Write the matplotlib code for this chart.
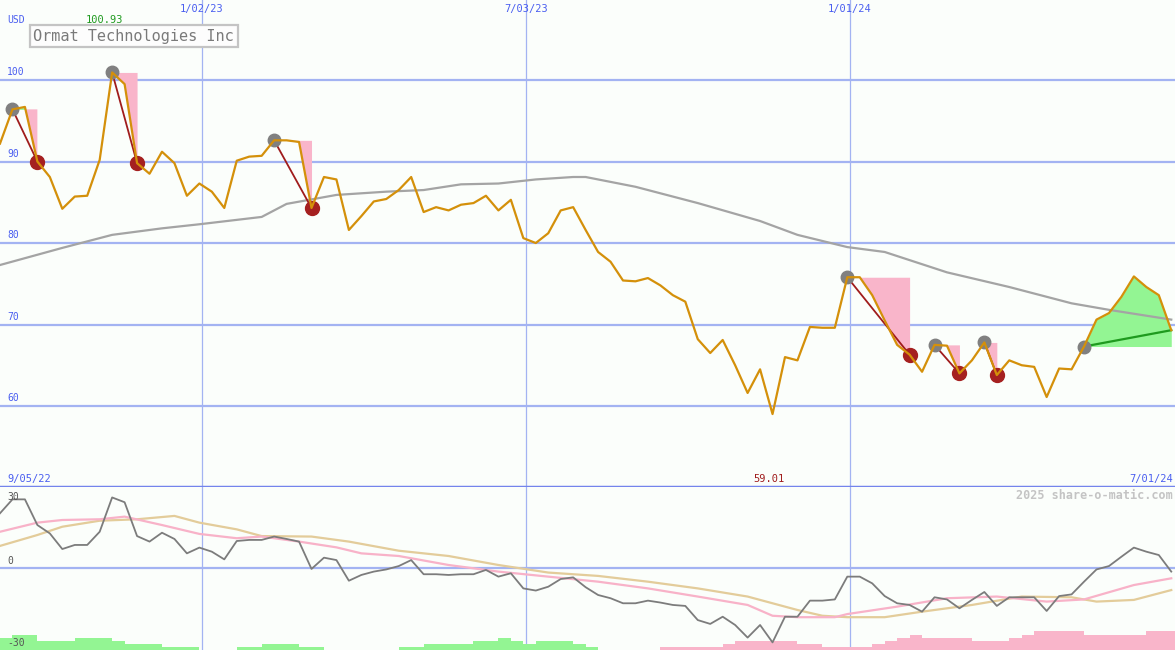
import numpy as np
import matplotlib
matplotlib.use('Agg')
import matplotlib.pyplot as plt
import matplotlib.transforms as mtrans

# ── weekly closes (USD), week 0 = first point on the left ──
price = [92.2, 96.4, 96.7, 90.0, 88.1, 84.2, 85.7, 85.8, 90.2, 100.93,
         99.5, 89.8, 88.5, 91.2, 89.8, 85.8, 87.3, 86.3, 84.3, 90.1,
         90.6, 90.7, 92.6, 92.6, 92.4, 84.3, 88.1, 87.8, 81.6, 83.3,
         85.1, 85.4, 86.5, 88.1, 83.8, 84.4, 84.0, 84.7, 84.9, 85.8,
         84.0, 85.3, 80.6, 80.0, 81.2, 84.0, 84.4, 81.6, 78.9, 77.7,
         75.4, 75.3, 75.7, 74.8, 73.6, 72.8, 68.2, 66.5, 68.1, 65.0,
         61.6, 64.5, 59.01, 66.0, 65.6, 69.7, 69.6, 69.6, 75.8, 75.8,
         73.6, 70.5, 67.5, 66.3, 64.2, 67.5, 67.4, 64.0, 65.6, 67.8,
         63.8, 65.6, 65.0, 64.8, 61.1, 64.6, 64.5, 67.3, 70.6, 71.4,
         73.4, 75.9, 74.6, 73.6, 69.3]

# long moving average (read at a few weeks)
ma_week = [0, 5, 9, 13, 16, 21, 23, 27, 31, 34, 37, 40, 43, 46, 47, 51,
           56, 61, 64, 68, 71, 76, 81, 86, 89, 94]
ma_val = [77.3, 79.4, 81.0, 81.8, 82.3, 83.2, 84.8, 85.9, 86.3, 86.5, 87.2,
          87.3, 87.8, 88.1, 88.1, 86.9, 84.9, 82.7, 81.0, 79.5, 78.9, 76.4,
          74.6, 72.6, 71.8, 70.6]

# drawdowns (peak week, trough week) and the final rally
drops = [(1, 3), (9, 11), (22, 25), (68, 73), (75, 77), (79, 80)]
rally = (87, 94)

# lower panel: oscillator + two signal lines
osc = [22.8, 28.6, 28.6, 17.9, 14.4, 7.9, 9.6, 9.6, 15.1, 29.4,
       27.4, 13.3, 11.0, 14.7, 12.1, 6.1, 8.5, 6.8, 3.6, 11.25,
       11.7, 11.7, 13.1, 12.1, 11.0, -0.4, 4.3, 3.3, -5.3, -2.9,
       -1.5, -0.6, 0.8, 3.3, -2.6, -2.6, -2.9, -2.6, -2.6, -0.8,
       -3.6, -2.2, -8.5, -9.4, -7.8, -4.6, -3.9, -8.0, -11.25, -12.6,
       -14.7, -14.7, -13.6, -14.4, -15.4, -15.8, -21.7, -23.3, -20.3, -23.75,
       -29.0, -23.75, -31.0, -20.3, -20.3, -13.6, -13.6, -13.1, -3.6, -3.6,
       -6.4, -11.7, -14.7, -15.4, -18.2, -12.2, -13.1, -16.8, -13.3, -10.0,
       -15.8, -12.2, -12.2, -12.2, -17.9, -11.7, -11.0, -5.7, -0.6, 0.8,
       4.7, 8.5, 6.8, 5.4, -1.5]

pink_week = [0, 3, 5, 8, 10, 13, 16, 19, 21, 24, 27, 29, 32, 36, 40, 44, 48,
             52, 56, 60, 62, 64, 67, 68, 72, 76, 80, 84, 87, 91, 94]
pink_val = [15.1, 18.9, 20.0, 20.3, 21.4, 17.9, 14.2, 12.4, 13.1, 11.0, 8.6,
            6.1, 5.0, 1.25, -1.5, -3.6, -5.7, -8.5, -11.9, -15.4, -19.9, -20.5,
            -20.5, -19.2, -16.1, -12.6, -11.9, -14.0, -13.1, -7.1, -4.3]

tan_week = [0, 3, 5, 8, 11, 14, 16, 19, 21, 25, 28, 32, 36, 40, 44, 48, 52,
            56, 60, 64, 66, 68, 71, 74, 78, 82, 86, 88, 91, 94]
tan_val = [9.2, 13.75, 17.2, 19.7, 20.3, 21.7, 18.9, 16.1, 13.3, 13.1, 11.0,
           7.2, 5.0, 1.25, -1.9, -3.3, -5.7, -8.5, -11.9, -17.5, -19.9, -20.5,
           -20.5, -18.2, -15.4, -11.9, -12.2, -14.0, -13.3, -9.2]

# weekly bars at the bottom (positive = green, negative = pink)
bars = [4.9, 6.25, 6.25, 3.75, 3.75, 3.75, 5.1, 5.1, 5.1, 3.75,
        2.5, 2.5, 2.5, 1.4, 1.4, 1.4, 0, 0, 0, 1.4,
        1.4, 2.5, 2.5, 2.5, 1.4, 1.4, 0, 0, 0, 0,
        0, 0, 1.4, 1.4, 2.5, 2.5, 2.5, 2.5, 3.75, 3.75,
        5.1, 3.75, 2.5, 3.75, 3.75, 3.75, 2.5, 1.4, 0, 0,
        0, 0, 0, -1.1, -1.1, -1.1, -1.1, -1.1, -2.5, -3.75,
        -3.75, -3.75, -3.75, -3.75, -2.5, -2.5, -1.25, -1.25, -1.25, -1.25,
        -2.5, -3.75, -5.0, -6.25, -5.0, -5.0, -5.0, -5.0, -3.75, -3.75,
        -3.75, -5.0, -6.25, -7.9, -7.9, -7.9, -7.9, -6.25, -6.25, -6.25,
        -6.25, -6.25, -7.9, -7.9, -7.9]

date_week = [16.2, 42.2, 68.2]
date_lbl = ["1/02/23", "7/03/23", "1/01/24"]
price_ticks = [60, 70, 80, 90, 100]

# ── style ──
BG = "#fbfefb"
GRID = "#a3b3f2"
BLUE_TXT = "#4a5ef0"
ORANGE = "#d4900a"
MONO = "DejaVu Sans Mono"

weeks = np.arange(len(price))
price = np.array(price)
XMAX = 94.3

fig = plt.figure(figsize=(11.75, 6.5), dpi=100, facecolor=BG)
ax = fig.add_axes([0, 163 / 650, 1, 487 / 650], facecolor=BG)
lo = fig.add_axes([0, 0, 1, 163 / 650], facecolor=BG)
for a in (ax, lo):
    a.set_xlim(0, XMAX)
    a.set_xticks([])
    a.set_yticks([])
    for s in a.spines.values():
        s.set_visible(False)
ax.set_ylim(50.06, 109.82)
lo.set_ylim(-34.17, 33.75)

# ── main panel ──
for v in price_ticks:
    ax.axhline(v, color=GRID, lw=1.6, zorder=1)
for w in date_week:
    ax.axvline(w, color=GRID, lw=0.9, zorder=1)
    lo.axvline(w, color=GRID, lw=0.9, zorder=1)

ytr = mtrans.blended_transform_factory(ax.transAxes, ax.transData)
for v in price_ticks:
    ax.text(0.006, v + 0.35, str(v), transform=ytr, ha="left", va="bottom",
            fontsize=7, family=MONO, color=BLUE_TXT)
xtr = mtrans.blended_transform_factory(ax.transData, ax.transAxes)
for w, s in zip(date_week, date_lbl):
    ax.text(w, 0.982, s, transform=xtr, ha="center", va="center",
            fontsize=7.5, family=MONO, color=BLUE_TXT)
ax.text(0.006, 0.958, "USD", transform=ax.transAxes, ha="left", va="center",
        fontsize=7, family=MONO, color=BLUE_TXT)
ax.text(0.006, 0.016, "9/05/22", transform=ax.transAxes, ha="left",
        va="center", fontsize=7.5, family=MONO, color=BLUE_TXT)
ax.text(0.998, 0.016, "7/01/24", transform=ax.transAxes, ha="right",
        va="center", fontsize=7.5, family=MONO, color=BLUE_TXT)

hi_i = int(np.argmax(price))
lo_i = int(np.argmin(price))
ax.text(hi_i - 0.6, 0.958, f"{price[hi_i]:.2f}", transform=xtr, ha="center",
        va="center", fontsize=7.5, family=MONO, color="#1f9a1f")
ax.text(lo_i - 0.3, 0.016, f"{price[lo_i]:.2f}", transform=xtr, ha="center",
        va="center", fontsize=7.5, family=MONO, color="#a01c1c")

ax.text(0.0285, 0.926, "Ormat Technologies Inc", transform=ax.transAxes,
        ha="left", va="center", fontsize=11, family=MONO, color="#7a7a7a",
        bbox=dict(boxstyle="square,pad=0.25", fc="#fdfdfd", ec="#c4c4c4",
                  lw=1.6), zorder=10)

# drawdown shading
for p, t in drops:
    xs = weeks[p:t + 1]
    ys = price[p:t + 1]
    ax.fill_between(xs, ys, price[p], where=ys <= price[p], interpolate=True,
                    color="#f9b5ca", lw=0, zorder=2)
    ax.fill_between(xs, ys, price[p], where=ys > price[p], interpolate=True,
                    color="#93f593", lw=0, zorder=2)
p, t = rally
xs = weeks[p:t + 1]
ax.fill_between(xs, price[p:t + 1], price[p], color="#93f593", lw=0, zorder=2)

ax.plot(ma_week, ma_val, color="#a4a4a4", lw=1.6, zorder=3)

for p, t in drops:
    ax.plot([p, t], [price[p], price[t]], color="#a01c1c", lw=1.3, zorder=4)
    ax.plot(p, price[p], "o", ms=9, color="#808080", zorder=4)
    ax.plot(t, price[t], "o", ms=10, color="#a52020", zorder=4)
p, t = rally
ax.plot([p, t], [price[p], price[t]], color="#1f9a1f", lw=1.6, zorder=4)
ax.plot(p, price[p], "o", ms=9, color="#808080", zorder=4)

ax.plot(weeks, price, color=ORANGE, lw=1.6, zorder=5)

# separator between panels
ax.axhline(50.06, color="#7484ec", lw=2.5, zorder=6, clip_on=False)

# ── lower panel ──
lo.axhline(0, color=GRID, lw=1.6, zorder=1)
bars = np.array(bars)
base = -34.17
lo.bar(weeks, np.abs(bars), width=1.0, align="edge", bottom=base,
       color=np.where(bars >= 0, "#93f593", "#f9b5ca"), lw=0, zorder=2)
lo.plot(tan_week, tan_val, color="#e3cc9a", lw=1.6, zorder=3)
lo.plot(pink_week, pink_val, color="#f8b2c8", lw=1.6, zorder=3)
lo.plot(weeks, osc, color="#7c7c7c", lw=1.3, zorder=4)

lo.text(0.006, 0.94, "30", transform=lo.transAxes, ha="left", va="center",
        fontsize=7, family=MONO, color="#555555", zorder=5)
lo.text(0.006, 0.546, "0", transform=lo.transAxes, ha="left", va="center",
        fontsize=7, family=MONO, color="#555555", zorder=5)
lo.text(0.006, 0.045, "-30", transform=lo.transAxes, ha="left", va="center",
        fontsize=7, family=MONO, color="#555555", zorder=5)
lo.text(0.998, 0.945, "2025 share-o-matic.com", transform=lo.transAxes,
        ha="right", va="center", fontsize=8.5, family=MONO,
        fontweight="bold", color="#c4c4c4")

fig.savefig("out.png", dpi=100, facecolor=BG)
